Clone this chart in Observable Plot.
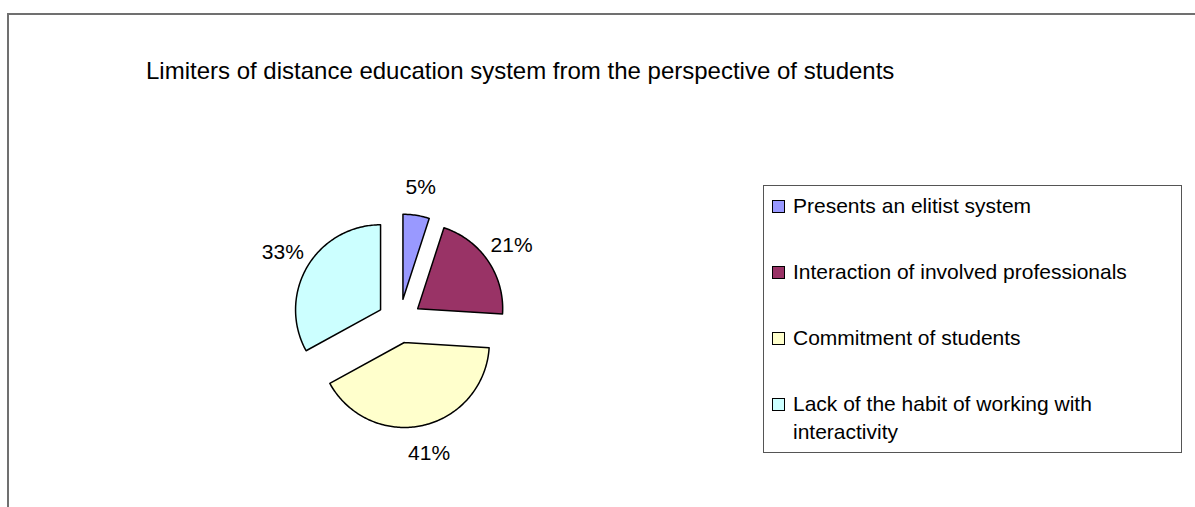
<!DOCTYPE html>
<html>
<head>
<meta charset="utf-8">
<script src="https://cdn.jsdelivr.net/npm/d3@7"></script>
<script src="https://cdn.jsdelivr.net/npm/@observablehq/plot@0.6"></script>
<style>
  html, body { margin: 0; padding: 0; background: #fff; }
  #wrap { position: relative; width: 1195px; height: 507px; overflow: hidden; background: #fff;
          font-family: "Liberation Sans", Arial, sans-serif; color: #000; }
  #frame { position: absolute; left: 7px; top: 13px; width: 1300px; height: 700px;
           border-top: 2px solid #707070; border-left: 2px solid #707070; }
  #chart { position: absolute; left: 0; top: 0; }
  #title { position: absolute; left: 146px; top: 59px; font-size: 24px; line-height: 24px; white-space: nowrap; }
  #legend { position: absolute; left: 763px; top: 185px; width: 417px; height: 266px;
            border: 1px solid #555; background: #fff; }
  .item { position: absolute; left: 29px; width: 380px; font-size: 21px; line-height: 28.5px; }
  .sw { position: absolute; width: 11px; height: 11px; border: 1px solid #000; }
</style>
</head>
<body>
<div id="wrap">
  <div id="frame"></div>
  <div id="chart"></div>
  <div id="title"></div>
  <div id="legend"></div>
</div>
<script>
// ---- data ----
const title = "Limiters of distance education system from the perspective of students";
const categories = [
  "Presents an elitist system",
  "Interaction of involved professionals",
  "Commitment of students",
  "Lack of the habit of working with interactivity"
];
const percents = [5, 21, 41, 33];
const colors = ["#9999ff", "#993366", "#ffffcc", "#ccffff"];

// ---- layout constants ----
const W = 1195, H = 507;
const CX = 399, CY = 320.5, R = 85, EXPLODE = 22, LABEL_R = 135.5;

// ---- geometry (in pie-radius units, y pointing down) ----
const total = d3.sum(percents);
const slices = [];
const labels = [];
let cum = 0;
percents.forEach((v, i) => {
  const a0 = cum / total * 2 * Math.PI;
  const a1 = (cum + v) / total * 2 * Math.PI;
  cum += v;
  const mid = (a0 + a1) / 2;
  const off = EXPLODE / R;
  const ox = off * Math.sin(mid), oy = -off * Math.cos(mid);
  slices.push({cat: categories[i], x: ox, y: oy});
  const n = Math.max(2, Math.ceil((a1 - a0) / (Math.PI / 180)));
  for (let k = 0; k <= n; k++) {
    const a = a0 + (a1 - a0) * k / n;
    slices.push({cat: categories[i], x: ox + Math.sin(a), y: oy - Math.cos(a)});
  }
  slices.push({cat: categories[i], x: ox, y: oy});
  const lr = LABEL_R / R;
  labels.push({cat: categories[i], x: lr * Math.sin(mid), y: -lr * Math.cos(mid), text: v + "%"});
});

const chart = Plot.plot({
  width: W, height: H, margin: 0,
  x: {domain: [-CX / R, (W - CX) / R], range: [0, W], axis: null},
  y: {domain: [-CY / R, (H - CY) / R], range: [0, H], axis: null},
  color: {domain: categories, range: colors},
  style: {fontFamily: "'Liberation Sans', Arial, sans-serif", background: "transparent", overflow: "visible"},
  marks: [
    Plot.line(slices, {x: "x", y: "y", z: "cat", fill: "cat", stroke: "#000", strokeWidth: 1.5, strokeLinejoin: "round"}),
    Plot.text(labels, {x: "x", y: "y", text: "text", fontSize: 21, fill: "#000"})
  ]
});
document.getElementById("chart").appendChild(chart);
document.getElementById("title").textContent = title;

// legend (colors from the plot's color scale)
const color = chart.scale("color");
const legend = document.getElementById("legend");
const PITCH = 66, FIRST_BASE = 27; // baseline of first row relative to legend box
categories.forEach((c, i) => {
  const base = FIRST_BASE + i * PITCH;
  const sw = document.createElement("div");
  sw.className = "sw";
  sw.style.left = "8px";
  sw.style.top = (base - 13) + "px";
  sw.style.background = color.apply(c);
  legend.appendChild(sw);
  const it = document.createElement("div");
  it.className = "item";
  it.style.top = (base - 21.5) + "px";
  it.textContent = c;
  legend.appendChild(it);
});
</script>
</body>
</html>
